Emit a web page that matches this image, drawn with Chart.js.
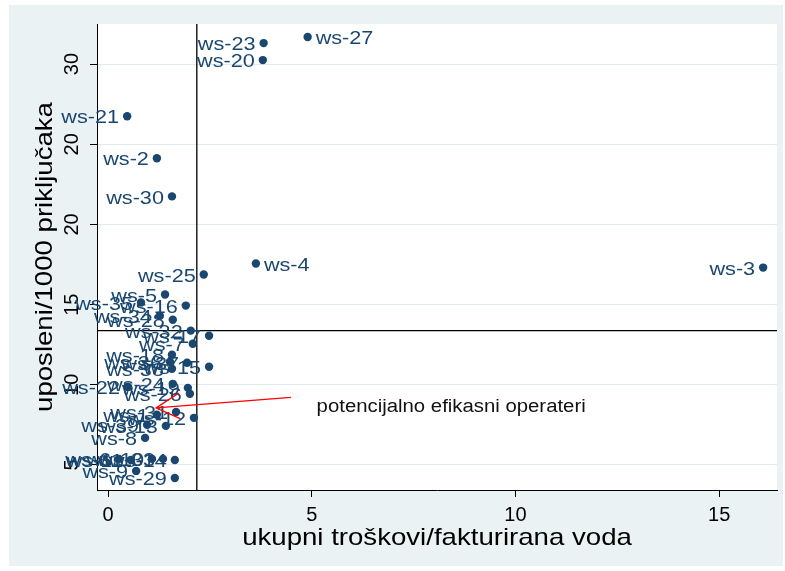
<!DOCTYPE html>
<html>
<head>
<meta charset="utf-8">
<script src="https://cdn.jsdelivr.net/npm/chart.js@4.4.0/dist/chart.umd.min.js"></script>
<style>
  html, body { margin: 0; padding: 0; background: #fff; }
  canvas { display: block; }
</style>
</head>
<body>
<canvas id="chart" width="785" height="571"></canvas>
<script>
// operateri i vrijednosti (procjena sa slike)
const operators = [
  'ws-27', 'ws-23', 'ws-20', 'ws-21', 'ws-2', 'ws-30', 'ws-4', 'ws-3', 'ws-25', 'ws-5',
  'ws-16', 'ws-35', 'ws-34', 'ws-28', 'ws-32', 'ws-17', 'ws-7', 'ws-18', 'ws-36', 'ws-37',
  'ws-15', 'ws-38', 'ws-24', 'ws-22', 'ws-19', 'ws-26', 'ws-1', 'ws-31', 'ws-12', 'ws-13',
  'ws-39', 'ws-8', 'ws-6', 'ws-11', 'ws-10', 'ws-33', 'ws-14', 'ws-9', 'ws-29'
];
const costPerWater = [
  4.90, 3.82, 3.80, 0.47, 1.20, 1.57, 3.63, 16.08, 2.35, 1.40,
  1.91, 0.81, 1.27, 1.59, 2.03, 2.48, 2.08, 1.57, 1.52, 1.94,
  2.48, 1.57, 1.59, 0.49, 1.96, 2.01, 1.20, 1.67, 2.11, 1.42,
  0.96, 0.91, 0.27, 0.56, 1.08, 1.35, 1.64, 0.69, 1.64
];
const staffPer1000 = [
  31.69, 31.31, 30.25, 26.75, 24.13, 21.75, 17.56, 17.31, 16.88, 15.63,
  14.94, 15.13, 14.31, 14.06, 13.38, 13.06, 12.56, 11.88, 11.44, 11.38,
  11.13, 11.00, 10.06, 9.88, 9.81, 9.44, 8.13, 8.31, 7.94, 7.44,
  7.50, 6.69, 5.38, 5.31, 5.38, 5.38, 5.31, 4.63, 4.19
];
const labelRight = ['ws-27', 'ws-4'];

const xTicks = [0, 5, 10, 15];
const yTicks = [5, 10, 15, 20, 25, 30];
const yTickLabels = ['5', '10', '15', '20', '20', '30'];

const xRef = 2.18;
const yRef = 13.38;

const noteText = 'potencijalno efikasni operateri';
const arrowFrom = [4.49, 9.22];
const arrowTo = [1.18, 8.56];
const notePos = [5.12, 8.28];

const xTitle = 'ukupni troškovi/fakturirana voda';
const yTitle = 'uposleni/1000 priključaka';

const FONT = '"Liberation Sans", Arial, sans-serif';
const NAVY = '#1a476f';

// tekst razvučen vodoravno (kao u Stata grafu)
function stretchText(ctx, text, x, y, o) {
  ctx.save();
  ctx.translate(x, y);
  if (o.rotate) ctx.rotate(o.rotate);
  ctx.scale(o.sx || 1, 1);
  ctx.font = o.font;
  ctx.fillStyle = o.color;
  ctx.textAlign = o.align || 'left';
  ctx.textBaseline = o.baseline || 'middle';
  ctx.fillText(text, 0, 0);
  ctx.restore();
}

const background = {
  id: 'background',
  beforeDraw(chart) {
    const { ctx, chartArea: a } = chart;
    ctx.save();
    ctx.fillStyle = '#ffffff';
    ctx.fillRect(0, 0, chart.width, chart.height);
    ctx.fillStyle = '#eaf2f3';
    ctx.fillRect(9, 5, 774, 561);
    ctx.fillStyle = '#ffffff';
    ctx.fillRect(a.left, a.top, a.right - a.left, a.bottom - a.top);
    ctx.restore();
  },
};

const refLines = {
  id: 'refLines',
  beforeDatasetsDraw(chart) {
    const { ctx, chartArea: a, scales } = chart;
    const x = scales.x.getPixelForValue(xRef);
    const y = scales.y.getPixelForValue(yRef);
    ctx.save();
    ctx.strokeStyle = '#000';
    ctx.lineWidth = 1.3;
    ctx.beginPath();
    ctx.moveTo(x, a.top);
    ctx.lineTo(x, a.bottom);
    ctx.moveTo(a.left, y);
    ctx.lineTo(a.right, y);
    ctx.stroke();
    ctx.restore();
  },
};

const pointLabels = {
  id: 'pointLabels',
  afterDatasetsDraw(chart) {
    const { ctx } = chart;
    const meta = chart.getDatasetMeta(0);
    meta.data.forEach((pt, i) => {
      const name = operators[i];
      const right = labelRight.includes(name);
      stretchText(ctx, name, pt.x + (right ? 8 : -8), pt.y + 2, {
        font: '19px ' + FONT, color: NAVY, sx: 1.14, align: right ? 'left' : 'right',
      });
    });
  },
};

const note = {
  id: 'note',
  afterDatasetsDraw(chart) {
    const { ctx, scales } = chart;
    const x1 = scales.x.getPixelForValue(arrowFrom[0]);
    const y1 = scales.y.getPixelForValue(arrowFrom[1]);
    const x2 = scales.x.getPixelForValue(arrowTo[0]);
    const y2 = scales.y.getPixelForValue(arrowTo[1]);
    const ang = Math.atan2(y1 - y2, x1 - x2);
    const len = 27, spread = 0.5;
    ctx.save();
    ctx.strokeStyle = '#ff0000';
    ctx.lineWidth = 1.3;
    ctx.beginPath();
    ctx.moveTo(x1, y1);
    ctx.lineTo(x2, y2);
    ctx.moveTo(x2 + len * Math.cos(ang - spread), y2 + len * Math.sin(ang - spread));
    ctx.lineTo(x2, y2);
    ctx.lineTo(x2 + len * Math.cos(ang + spread), y2 + len * Math.sin(ang + spread));
    ctx.stroke();
    ctx.restore();
    stretchText(ctx, noteText, scales.x.getPixelForValue(notePos[0]), scales.y.getPixelForValue(notePos[1]), {
      font: '18px ' + FONT, color: '#111', sx: 1.13, baseline: 'alphabetic',
    });
  },
};

const axisTitles = {
  id: 'axisTitles',
  afterDraw(chart) {
    const { ctx, chartArea: a } = chart;
    stretchText(ctx, xTitle, (a.left + a.right) / 2, 538, {
      font: '24px ' + FONT, color: '#000', sx: 1.15, align: 'center',
    });
    stretchText(ctx, yTitle, 45, (a.top + a.bottom) / 2, {
      font: '24px ' + FONT, color: '#000', sx: 1.15, align: 'center', rotate: -Math.PI / 2,
    });
  },
};

new Chart(document.getElementById('chart'), {
  type: 'scatter',
  data: {
    datasets: [{
      data: costPerWater.map((x, i) => ({ x, y: staffPer1000[i] })),
      backgroundColor: NAVY,
      borderWidth: 0,
      pointRadius: 4.2,
      pointHoverRadius: 4.2,
    }],
  },
  options: {
    responsive: false,
    animation: false,
    devicePixelRatio: 1,
    layout: { padding: { left: 9, top: 24, right: 8, bottom: 0 } },
    plugins: { legend: { display: false }, tooltip: { enabled: false } },
    scales: {
      x: {
        type: 'linear',
        min: -0.27, max: 16.42,
        afterBuildTicks: s => { s.ticks = xTicks.map(v => ({ value: v })); },
        afterFit: s => { s.height = 81; },
        grid: { drawOnChartArea: false, tickLength: 7, tickColor: '#000' },
        border: { color: '#000', width: 1 },
        ticks: {
          color: '#000', padding: 6, maxRotation: 0, autoSkip: false,
          font: { family: FONT, size: 20 },
        },
      },
      y: {
        type: 'linear',
        min: 3.44, max: 32.5,
        afterBuildTicks: s => { s.ticks = yTicks.map(v => ({ value: v })); },
        afterFit: s => { s.width = 88; },
        grid: { color: '#e2ebee', tickLength: 7, tickColor: '#000' },
        border: { color: '#000', width: 1 },
        ticks: {
          color: '#000', padding: 6, minRotation: 90, maxRotation: 90, crossAlign: 'center',
          autoSkip: false,
          font: { family: FONT, size: 20 },
          callback: (v, i) => yTickLabels[i],
        },
      },
    },
  },
  plugins: [background, refLines, pointLabels, note, axisTitles],
});
</script>
</body>
</html>
